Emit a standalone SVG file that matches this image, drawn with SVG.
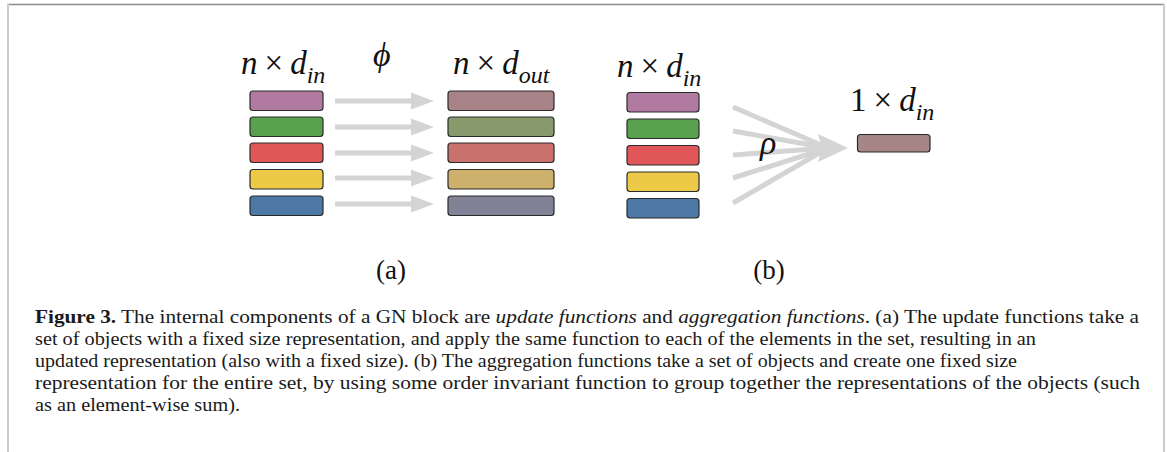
<svg xmlns="http://www.w3.org/2000/svg" width="1167" height="452" viewBox="0 0 1167 452">
<style>
.box{stroke:#2b2b2b;stroke-width:1.2}
.m{font-family:"Liberation Serif","Times New Roman",serif;font-style:italic;fill:#111}
.u{font-family:"Liberation Serif","Times New Roman",serif;font-style:normal;fill:#111}
.cap{font-family:"Liberation Serif",serif;font-size:19px;fill:#1a1a1a}
.arr{fill:#d4d4d4}
.fan{stroke:#d4d4d4;stroke-width:5;fill:none}
</style>
<rect x="0" y="0" width="1167" height="452" fill="#ffffff"/>
<g id="frame">
<line x1="7" y1="4.5" x2="1165" y2="4.5" stroke="#8c8c8c" stroke-width="1.5"/>
<line x1="8" y1="4" x2="8" y2="452" stroke="#cccccc" stroke-width="2"/>
<line x1="1164" y1="4" x2="1164" y2="452" stroke="#cccccc" stroke-width="2"/>
</g>
<g id="connectors">
<g id="update-arrows">
<path class="arr" d="M335,98.5 H411 V92.5 L434,101 L411,109.5 V103.5 H335 Z"/>
<path class="arr" d="M335,124.5 H411 V118.5 L434,127 L411,135.5 V129.5 H335 Z"/>
<path class="arr" d="M335,150.5 H411 V144.5 L434,153 L411,161.5 V155.5 H335 Z"/>
<path class="arr" d="M335,175.5 H411 V169.5 L434,178 L411,186.5 V180.5 H335 Z"/>
<path class="arr" d="M335,201.5 H411 V195.5 L434,204 L411,212.5 V206.5 H335 Z"/>
</g>
<g id="aggregation-arrows">
<line class="fan" x1="733" y1="107" x2="828" y2="148"/>
<line class="fan" x1="733" y1="131" x2="828" y2="148"/>
<line class="fan" x1="733" y1="155" x2="828" y2="148"/>
<line class="fan" x1="733" y1="178" x2="828" y2="148"/>
<line class="fan" x1="733" y1="203" x2="828" y2="148"/>
<path class="arr" d="M848,148 L818,134 L822,148 L818,162 Z"/>
</g>
</g>
<g id="a-input">
<rect class="box" x="250" y="91" width="73" height="19.5" rx="3" fill="#b07aa1"/>
<rect class="box" x="250" y="117" width="73" height="19.5" rx="3" fill="#59a14f"/>
<rect class="box" x="250" y="143" width="73" height="19.5" rx="3" fill="#e15759"/>
<rect class="box" x="250" y="169.5" width="73" height="19.5" rx="3" fill="#edc948"/>
<rect class="box" x="250" y="196" width="73" height="19.5" rx="3" fill="#4e79a7"/>
</g>
<g id="a-output">
<rect class="box" x="448" y="91" width="106" height="19.5" rx="3" fill="#a78387"/>
<rect class="box" x="448" y="117" width="106" height="19.5" rx="3" fill="#889a6c"/>
<rect class="box" x="448" y="143" width="106" height="19.5" rx="3" fill="#c8716d"/>
<rect class="box" x="448" y="169.5" width="106" height="19.5" rx="3" fill="#cdb06c"/>
<rect class="box" x="448" y="196" width="106" height="19.5" rx="3" fill="#818296"/>
</g>
<g id="b-input">
<rect class="box" x="627" y="92.5" width="72" height="19.5" rx="3" fill="#b07aa1"/>
<rect class="box" x="627" y="119" width="72" height="19.5" rx="3" fill="#59a14f"/>
<rect class="box" x="627" y="145.5" width="72" height="19.5" rx="3" fill="#e15759"/>
<rect class="box" x="627" y="172" width="72" height="19.5" rx="3" fill="#edc948"/>
<rect class="box" x="627" y="198.5" width="72" height="19.5" rx="3" fill="#4e79a7"/>
</g>
<g id="b-output">
<rect class="box" x="857.5" y="134.5" width="72.5" height="17.5" rx="3" fill="#a68585"/>
</g>
<g id="labels">
<text x="241" y="74" font-size="33" font-family="Liberation Serif"><tspan class="m">n</tspan><tspan class="u" dx="7">×</tspan><tspan class="m" dx="7">d</tspan><tspan class="m" font-size="24" dy="9">in</tspan></text>
<text x="373" y="66" font-size="34" class="m">ϕ</text>
<text x="453" y="74" font-size="33" font-family="Liberation Serif"><tspan class="m">n</tspan><tspan class="u" dx="7">×</tspan><tspan class="m" dx="7">d</tspan><tspan class="m" font-size="24" dy="9">out</tspan></text>
<text x="617" y="77" font-size="33" font-family="Liberation Serif"><tspan class="m">n</tspan><tspan class="u" dx="7">×</tspan><tspan class="m" dx="7">d</tspan><tspan class="m" font-size="24" dy="9">in</tspan></text>
<text x="850" y="111" font-size="33" font-family="Liberation Serif"><tspan class="u">1</tspan><tspan class="u" dx="7">×</tspan><tspan class="m" dx="7">d</tspan><tspan class="m" font-size="24" dy="9">in</tspan></text>
<text x="760" y="154" font-size="34" class="m">ρ</text>
<text x="391" y="279" font-size="27" class="u" text-anchor="middle">(a)</text>
<text x="769" y="279" font-size="27" class="u" text-anchor="middle">(b)</text>
</g>
<g id="caption" class="cap">
<text x="35" y="323" textLength="1104" lengthAdjust="spacingAndGlyphs"><tspan font-weight="bold">Figure 3.</tspan> The internal components of a GN block are <tspan font-style="italic">update functions</tspan> and <tspan font-style="italic">aggregation functions</tspan>. (a) The update functions take a</text>
<text x="35" y="345" textLength="1001" lengthAdjust="spacingAndGlyphs">set of objects with a fixed size representation, and apply the same function to each of the elements in the set, resulting in an</text>
<text x="35" y="367" textLength="982" lengthAdjust="spacingAndGlyphs">updated representation (also with a fixed size). (b) The aggregation functions take a set of objects and create one fixed size</text>
<text x="35" y="389" textLength="1105" lengthAdjust="spacingAndGlyphs">representation for the entire set, by using some order invariant function to group together the representations of the objects (such</text>
<text x="35" y="411" textLength="205" lengthAdjust="spacingAndGlyphs">as an element-wise sum).</text>
</g>
</svg>
